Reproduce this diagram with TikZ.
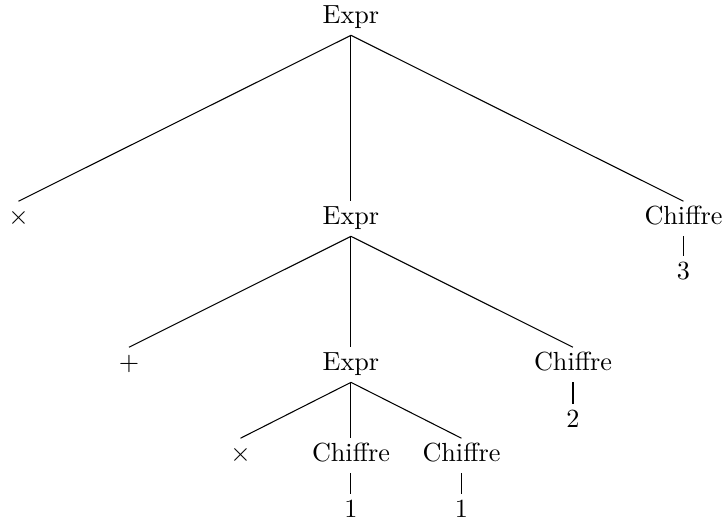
\documentclass[tikz,border=0pt]{standalone}
\usepackage{amsmath}
\usepackage{amssymb}
\usepackage{tikz}
\usetikzlibrary{positioning}

\begin{document}
\begin{tikzpicture}[
        % Nodi dell'albero: solo testo, allineati sulla linea di base
        nodo/.style={anchor=base, inner sep=2.5pt, text height=6pt, text depth=2pt},
        % Archi sottili tra padre e figlio
        arco/.style={thin}
    ]
        \useasboundingbox (-4.711,0.309) rectangle (5.007,-6.698);

        % Nodi
        \node[nodo] (radice) at (0,0) {Expr};

        \node[nodo] (per1) at (-4.463,-2.698) {$\times$};
        \node[nodo] (expr1) at (0,-2.698) {Expr};
        \node[nodo] (cifra1) at (4.463,-2.698) {Chiffre};
        \node[nodo] (tre) at (4.463,-3.436) {3};

        \node[nodo] (piu) at (-2.98,-4.658) {$+$};
        \node[nodo] (expr2) at (0,-4.658) {Expr};
        \node[nodo] (cifra2) at (2.98,-4.658) {Chiffre};
        \node[nodo] (due) at (2.98,-5.423) {2};

        \node[nodo] (per2) at (-1.483,-5.879) {$\times$};
        \node[nodo] (cifra3) at (0,-5.879) {Chiffre};
        \node[nodo] (cifra4) at (1.483,-5.879) {Chiffre};
        \node[nodo] (uno1) at (0,-6.631) {1};
        \node[nodo] (uno2) at (1.483,-6.631) {1};

        % Archi
        \draw[arco] (radice.south) -- (per1.north);
        \draw[arco] (radice.south) -- (expr1.north);
        \draw[arco] (radice.south) -- (cifra1.north);
        \draw[arco] (cifra1.south) -- (tre.north);

        \draw[arco] (expr1.south) -- (piu.north);
        \draw[arco] (expr1.south) -- (expr2.north);
        \draw[arco] (expr1.south) -- (cifra2.north);
        \draw[arco] (cifra2.south) -- (due.north);

        \draw[arco] (expr2.south) -- (per2.north);
        \draw[arco] (expr2.south) -- (cifra3.north);
        \draw[arco] (expr2.south) -- (cifra4.north);
        \draw[arco] (cifra3.south) -- (uno1.north);
        \draw[arco] (cifra4.south) -- (uno2.north);

    \end{tikzpicture}
\end{document}
